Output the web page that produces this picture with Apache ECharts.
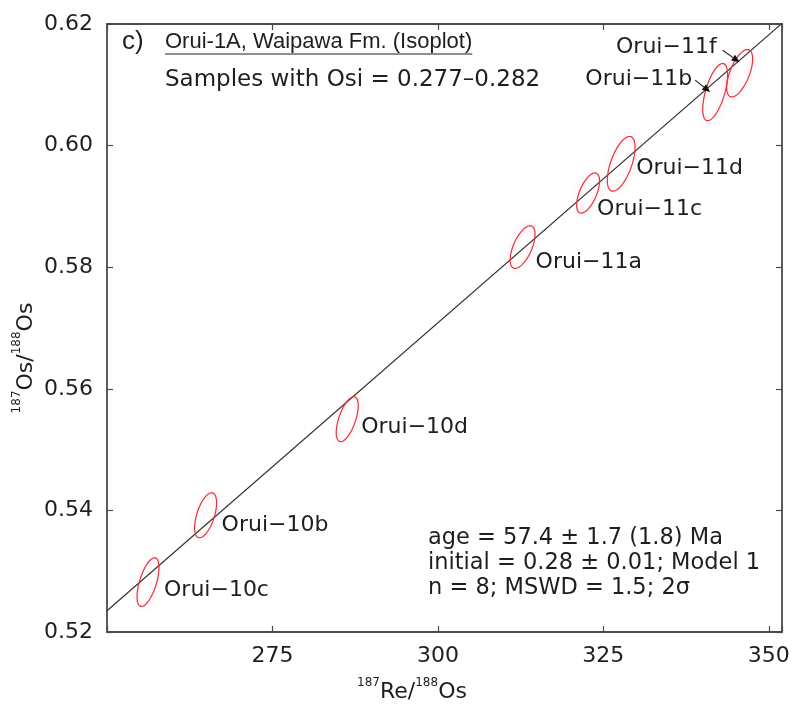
<!DOCTYPE html>
<html>
<head>
<meta charset="utf-8">
<script src="https://cdn.jsdelivr.net/npm/echarts@6/dist/echarts.min.js"></script>
<style>
  html, body { margin: 0; padding: 0; background: #ffffff; }
  #chart { width: 793px; height: 706px; }
</style>
</head>
<body>
<div id="chart"></div>
<script>
// Re-Os isochron, Orui-1A, Waipawa Fm.
const sampleNames = ['Orui−10c', 'Orui−10b', 'Orui−10d', 'Orui−11a', 'Orui−11c', 'Orui−11d', 'Orui−11b', 'Orui−11f'];
const reOs       = [256.2, 264.9, 286.3, 312.8, 322.7, 327.7, 341.9, 345.6];          // 187Re/188Os
const osOs       = [0.5282, 0.5392, 0.5550, 0.5833, 0.5922, 0.5970, 0.6088, 0.6119];  // 187Os/188Os
const reOsErr2s  = [1.66, 1.66, 1.66, 1.88, 1.73, 2.10, 1.88, 1.96];
const osOsErr2s  = [0.0040, 0.0037, 0.0037, 0.0035, 0.0033, 0.0045, 0.0047, 0.0039];
const errCorr    = [0.60, 0.55, 0.60, 0.60, 0.60, 0.60, 0.60, 0.60];

// regression line end points
const isochronX = [250, 352];
const isochronY = [0.5235, 0.6201];

const xTicks = [275, 300, 325, 350];
const yTicks = [0.52, 0.54, 0.56, 0.58, 0.60, 0.62];

const titleText = 'Orui-1A, Waipawa Fm. (Isoplot)';
const subtitleText = 'Samples with Osi = 0.277–0.282';
const statsLines = ['age = 57.4 ± 1.7 (1.8) Ma', 'initial = 0.28 ± 0.01; Model 1', 'n = 8; MSWD = 1.5; 2σ'];

const FAMILY = '"DejaVu Sans", Verdana, sans-serif';
const TITLE_FAMILY = '"Liberation Sans", Arial, Helvetica, sans-serif';
const FS = 22;
const TEXT_COLOR = '#1e1e1e';
const AXIS_COLOR = '#4a4a4a';

// where each sample name sits relative to its ellipse centre (pixels)
const labelLayout = {
  'Orui−10c': { dx: 16, dy: 8, align: 'left' },
  'Orui−10b': { dx: 16, dy: 10, align: 'left' },
  'Orui−10d': { dx: 14, dy: 8, align: 'left' },
  'Orui−11a': { dx: 13, dy: 15, align: 'left' },
  'Orui−11c': { dx: 9, dy: 16, align: 'left' },
  'Orui−11d': { dx: 15, dy: 4, align: 'left' },
  'Orui−11b': { dx: -23, dy: -13, align: 'right', arrow: [-20, -12, -5, 0] },
  'Orui−11f': { dx: -23, dy: -26, align: 'right', arrow: [-17, -23, 0, -11] }
};

function measure(text, font) {
  const ctx = document.createElement('canvas').getContext('2d');
  ctx.font = font;
  return ctx.measureText(text).width;
}

function renderEllipse(params, api) {
  const i = params.dataIndex;
  const x0 = reOs[i], y0 = osOs[i];
  const ex = reOsErr2s[i], ey = osOsErr2s[i], r = errCorr[i];
  const k = Math.sqrt(1 - r * r);
  const pts = [];
  const N = 90;
  for (let s = 0; s < N; s++) {
    const t = s / N * 2 * Math.PI;
    pts.push(api.coord([x0 + ex * Math.cos(t), y0 + ey * (r * Math.cos(t) + k * Math.sin(t))]));
  }
  const c = api.coord([x0, y0]);
  const L = labelLayout[sampleNames[i]];
  const children = [
    {
      type: 'polygon',
      shape: { points: pts },
      style: { fill: 'none', stroke: '#e0343e', lineWidth: 1.2, shadowBlur: 6, shadowColor: 'rgba(235,90,100,0.35)' }
    },
    {
      type: 'text',
      style: {
        x: c[0] + L.dx, y: c[1] + L.dy, text: sampleNames[i],
        align: L.align, verticalAlign: 'middle',
        fontSize: FS, fontFamily: FAMILY, fill: TEXT_COLOR
      }
    }
  ];
  if (L.arrow) {
    const ax = c[0] + L.arrow[0], ay = c[1] + L.arrow[1];
    const tx = c[0] + L.arrow[2], ty = c[1] + L.arrow[3];
    const len = Math.hypot(tx - ax, ty - ay);
    const ux = (tx - ax) / len, uy = (ty - ay) / len;
    const hl = 8, hw = 3.5;
    const bx = tx - ux * hl, by = ty - uy * hl;
    children.push({
      type: 'line',
      shape: { x1: ax, y1: ay, x2: bx, y2: by },
      style: { stroke: '#222', lineWidth: 1.2 }
    });
    children.push({
      type: 'polygon',
      shape: { points: [[tx, ty], [bx - uy * hw, by + ux * hw], [bx + uy * hw, by - ux * hw]] },
      style: { fill: '#111' }
    });
  }
  return { type: 'group', children };
}

const tickStyle = { show: true, inside: true, length: 6, lineStyle: { color: AXIS_COLOR, width: 1.2 } };
const lineStyleAxis = { show: true, lineStyle: { color: AXIS_COLOR, width: 1.8 } };

const chart = echarts.init(document.getElementById('chart'), null, { renderer: 'canvas' });

const titleFont = FS + 'px ' + TITLE_FAMILY;
const titleWidth = measure(titleText, titleFont);

const option = {
  animation: false,
  backgroundColor: '#ffffff',
  grid: { left: 107, right: 11, top: 24, bottom: 74 },
  xAxis: [
    {
      type: 'value', min: 250, max: 352, interval: 25, position: 'bottom',
      axisLine: lineStyleAxis, axisTick: tickStyle, splitLine: { show: false },
      axisLabel: {
        margin: 13, fontSize: FS, fontFamily: FAMILY, color: TEXT_COLOR,
        formatter: v => (xTicks.includes(v) ? String(v) : '')
      }
    },
    {
      type: 'value', min: 250, max: 352, interval: 25, position: 'top',
      axisLine: lineStyleAxis, axisTick: tickStyle, splitLine: { show: false }, axisLabel: { show: false }
    }
  ],
  yAxis: [
    {
      type: 'value', min: 0.52, max: 0.62, interval: 0.02, position: 'left',
      axisLine: lineStyleAxis, axisTick: tickStyle, splitLine: { show: false },
      axisLabel: {
        margin: 14, fontSize: FS, fontFamily: FAMILY, color: TEXT_COLOR,
        formatter: v => {
          const hit = yTicks.find(t => Math.abs(t - v) < 1e-9);
          return hit === undefined ? '' : hit.toFixed(2);
        }
      }
    },
    {
      type: 'value', min: 0.52, max: 0.62, interval: 0.02, position: 'right',
      axisLine: lineStyleAxis, axisTick: tickStyle, splitLine: { show: false }, axisLabel: { show: false }
    }
  ],
  series: [
    {
      type: 'line',
      data: isochronX.map((x, i) => [x, isochronY[i]]),
      symbol: 'none',
      clip: true,
      lineStyle: { color: '#333333', width: 1.2 },
      silent: true,
      z: 2
    },
    {
      type: 'custom',
      data: reOs.map((x, i) => [x, osOs[i]]),
      encode: { x: 0, y: 1 },
      renderItem: renderEllipse,
      z: 3
    }
  ],
  graphic: [
    { type: 'text', x: 122, y: 42, style: { text: 'c)', fontSize: 26, fontFamily: TITLE_FAMILY, fill: TEXT_COLOR, verticalAlign: 'middle' } },
    { type: 'text', x: 165, y: 42, style: { text: titleText, fontSize: FS, fontFamily: TITLE_FAMILY, fill: TEXT_COLOR, verticalAlign: 'middle' } },
    { type: 'line', shape: { x1: 165, y1: 54, x2: 165 + titleWidth, y2: 54 }, style: { stroke: TEXT_COLOR, lineWidth: 1.2 } },
    { type: 'text', x: 165, y: 80, style: { text: subtitleText, fontSize: 23, fontFamily: FAMILY, fill: TEXT_COLOR, verticalAlign: 'middle' } },
    { type: 'text', x: 428, y: 538, style: { text: statsLines[0], fontSize: 22.5, fontFamily: FAMILY, fill: TEXT_COLOR, verticalAlign: 'middle' } },
    { type: 'text', x: 428, y: 563, style: { text: statsLines[1], fontSize: 22.5, fontFamily: FAMILY, fill: TEXT_COLOR, verticalAlign: 'middle' } },
    { type: 'text', x: 428, y: 588, style: { text: statsLines[2], fontSize: 22.5, fontFamily: FAMILY, fill: TEXT_COLOR, verticalAlign: 'middle' } },
    {
      type: 'text', x: 412, y: 690,
      style: {
        text: '{s|187}{m|Re/}{s|188}{m|Os}',
        align: 'center', verticalAlign: 'middle', fill: TEXT_COLOR, fontFamily: FAMILY,
        rich: {
          s: { fontSize: 12, fontFamily: FAMILY, fill: TEXT_COLOR, verticalAlign: 'top', lineHeight: 26 },
          m: { fontSize: FS, fontFamily: FAMILY, fill: TEXT_COLOR, verticalAlign: 'bottom', lineHeight: 26 }
        }
      }
    },
    {
      type: 'text', x: 24, y: 358, rotation: Math.PI / 2,
      style: {
        text: '{s|187}{m|Os/}{s|188}{m|Os}',
        align: 'center', verticalAlign: 'middle', fill: TEXT_COLOR, fontFamily: FAMILY,
        rich: {
          s: { fontSize: 12, fontFamily: FAMILY, fill: TEXT_COLOR, verticalAlign: 'top', lineHeight: 26 },
          m: { fontSize: FS, fontFamily: FAMILY, fill: TEXT_COLOR, verticalAlign: 'bottom', lineHeight: 26 }
        }
      }
    }
  ]
};

chart.setOption(option);
</script>
</body>
</html>
